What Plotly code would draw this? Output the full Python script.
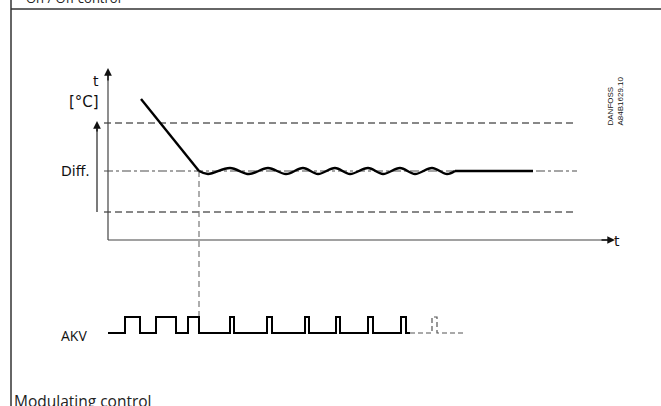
import plotly.graph_objects as go

# ---- data (diagram coordinates: x to the right, y downward) ----
# temperature curve: cooling ramp, then oscillation about the set point, then steady
ramp_x = [141, 199]
ramp_y = [99, 171]
wave_x = [199, 208, 230, 249, 268, 286, 303, 318, 335, 350, 368, 383, 400, 415, 432, 447, 455]
wave_y = [171, 174, 168, 174, 168, 174, 168, 174, 168, 174, 168, 174, 168, 174, 168, 174, 171]
steady_x = [455, 533]
steady_y = [171, 171]

# reference levels
upper_level = 123
setpoint_level = 171
lower_level = 212
levels_x = [104, 577]

# axes
axis_origin = (108, 240)
y_axis_top = 74
x_axis_end = 608

# Diff. arrow
diff_x = 97
diff_bottom = 212
diff_top = 123

# AKV pulse train
akv_start = 108
akv_base = 333
akv_high = 317
pulse_rise = [125, 156, 188, 230, 267, 305, 336, 368, 401]
pulse_fall = [140, 176, 199, 234, 272, 309, 340, 373, 406]
akv_solid_end = 410
dashed_pulse_rise = 432
dashed_pulse_fall = 437
akv_dashed_end = 463

# link line from curve minimum down to the pulses
link_x = 199
link_y = [171, 317]

# frame
frame_left = 11
frame_top = 9

# ---- build traces ----
fig = go.Figure()

def line(xs, ys, color="black", width=1.2, dash="solid", shape="linear", smoothing=None):
    kw = dict(color=color, width=width, dash=dash, shape=shape)
    if smoothing is not None:
        kw["smoothing"] = smoothing
    fig.add_trace(go.Scatter(x=xs, y=ys, mode="lines", line=kw,
                             hoverinfo="skip", showlegend=False))

# frame
line([frame_left, frame_left], [0, 406], color="#333", width=1.5)
line([frame_left, 661], [frame_top, frame_top], color="#333", width=1.5)

# reference levels
line(levels_x, [upper_level, upper_level], color="#111", width=1, dash="7px,4px")
line(levels_x, [lower_level, lower_level], color="#111", width=1, dash="7px,4px")
line(levels_x, [setpoint_level, setpoint_level], color="#888", width=1.3, dash="9px,3px,3px,3px")

# axes
line([axis_origin[0], axis_origin[0]], [axis_origin[1], y_axis_top], color="#444", width=1.2)
line([axis_origin[0], x_axis_end], [axis_origin[1], axis_origin[1]], color="#444", width=1.2)

# Diff arrow shaft
line([diff_x, diff_x], [diff_bottom, diff_top + 6], color="#222", width=1.2)

# link line
line([link_x, link_x], link_y, color="#777", width=1.2, dash="6px,4px")

# temperature curve
line(ramp_x, ramp_y, width=2.4)
line(wave_x, wave_y, width=2.4, shape="spline", smoothing=1.0)
line(steady_x, steady_y, width=2.4)

# AKV pulses (solid)
px = [akv_start]
py = [akv_base]
for r, f in zip(pulse_rise, pulse_fall):
    px += [r, r, f, f]
    py += [akv_base, akv_high, akv_high, akv_base]
px.append(akv_solid_end)
py.append(akv_base)
line(px, py, width=2)

# AKV pulses (dashed continuation)
dx = [akv_solid_end, dashed_pulse_rise, dashed_pulse_rise, dashed_pulse_fall, dashed_pulse_fall, akv_dashed_end]
dy = [akv_base, akv_base, akv_high, akv_high, akv_base, akv_base]
line(dx, dy, color="#555", width=1.2, dash="5px,3px")

# ---- arrowheads ----
def arrow(x, y, ax, ay):
    fig.add_annotation(x=x, y=y, ax=ax, ay=ay, xref="x", yref="y", axref="x", ayref="y",
                       text="", showarrow=True, arrowhead=2, arrowsize=1.1,
                       arrowwidth=1.4, arrowcolor="#111")

arrow(axis_origin[0], 68, axis_origin[0], 82)
arrow(615, axis_origin[1], 600, axis_origin[1])
arrow(diff_x, diff_top - 2, diff_x, diff_top + 10)

# ---- texts ----
tech_font = dict(family="DejaVu Sans", size=14, color="#111")
fig.add_annotation(x=101, y=81, text="t", showarrow=False, xanchor="right", yanchor="middle",
                   font=tech_font)
fig.add_annotation(x=101, y=102, text="[°C]", showarrow=False, xanchor="right", yanchor="middle",
                   font=dict(family="DejaVu Sans", size=15, color="#111"))
fig.add_annotation(x=59, y=171, text="Diff.", showarrow=False, xanchor="left", yanchor="middle",
                   font=tech_font)
fig.add_annotation(x=612, y=241, text="t", showarrow=False, xanchor="left", yanchor="middle",
                   font=tech_font)
fig.add_annotation(x=615, y=128, text="DANFOSS<br>A84B1629.10", showarrow=False, textangle=-90,
                   xanchor="center", yanchor="bottom", align="left",
                   font=dict(family="Liberation Sans", size=8, color="#111"))
fig.add_annotation(x=59, y=335, text="AKV", showarrow=False, xanchor="left", yanchor="middle",
                   font=dict(family="Open Sans", size=14, color="#111"))
fig.add_annotation(x=24, y=9, text="On / Off control", showarrow=False, xanchor="left",
                   yanchor="bottom", font=dict(family="Open Sans", size=13, color="#222"))
fig.add_annotation(x=12, y=388, text="Modulating control", showarrow=False, xanchor="left",
                   yanchor="top", font=dict(family="Open Sans", size=15.5, color="#222"))

fig.update_layout(
    width=661, height=406,
    margin=dict(l=0, r=0, t=0, b=0),
    paper_bgcolor="white", plot_bgcolor="white",
    xaxis=dict(range=[0, 661], visible=False, fixedrange=True),
    yaxis=dict(range=[406, 0], visible=False, fixedrange=True),
    showlegend=False,
)

fig.write_html("out.html", config={"displayModeBar": False, "staticPlot": True},
               post_script="document.body.style.margin='0px';")
